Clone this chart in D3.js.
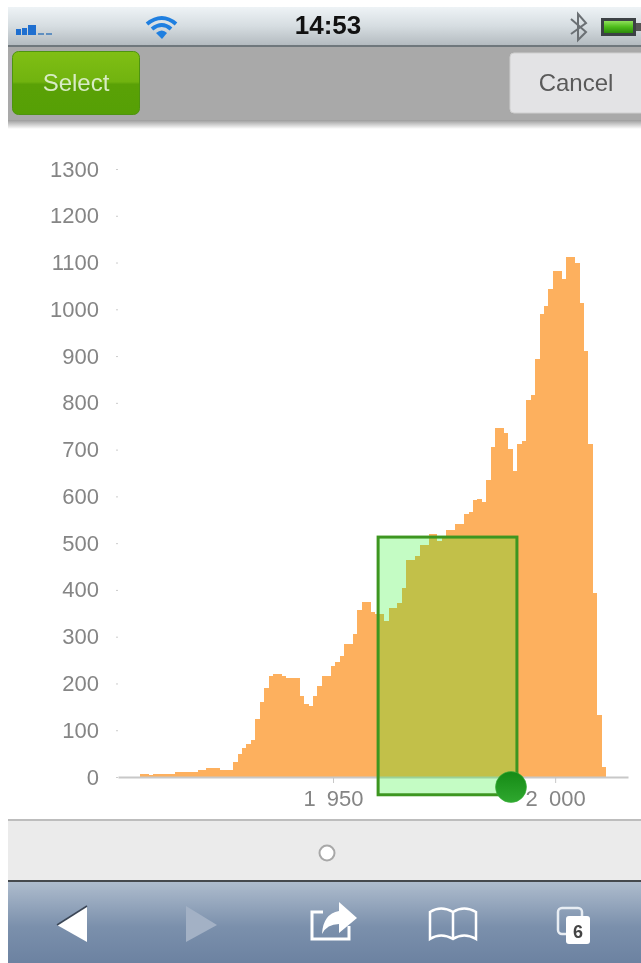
<!DOCTYPE html>
<html>

<head>
    <title>histogram select</title>
    <script src="https://d3js.org/d3.v7.min.js"></script>
    <style>
        body { margin: 0; background: #fff; }
        svg { display: block; filter: blur(0.65px); font-family: "Liberation Sans", Arial, sans-serif; }
    </style>
</head>

<body>
    <svg width="641" height="963" id="mainsvg"></svg>
    <script>
        // values
        const firstYear = 1907;
        const counts = [6, 6, 4, 6, 6, 6, 7, 7, 11, 11, 10, 11, 11, 14, 14, 19, 19, 19, 16, 16, 16, 32, 49,
            62, 71, 80, 123, 160, 190, 216, 221, 221, 216,
            212, 212, 212, 173, 156, 152, 173, 195, 216, 216,
            237, 246, 259, 284, 284, 306, 357, 374, 374, 353,
            349, 349, 333, 362, 362, 371, 405, 465, 465, 473,
            495, 495, 520, 520, 505, 512, 529, 529, 542, 542,
            563, 567, 592, 594, 589, 636, 705, 747, 747, 735,
            701, 654, 713, 718, 807, 816, 893, 991, 1008, 1043,
            1081, 1081, 1064, 1111, 1111, 1098, 1013, 910, 713, 393,
            132, 21];
        const yTicks = d3.range(0, 1301, 100);
        const xTicks = [1950, 2000];
        const selectionYears = [1960.15, 1991.4];
        const selectionCounts = [-38, 513];
        const selectLabel = 'Select', cancelLabel = 'Cancel', clock = '14:53', tabCount = '6';

        const svg = d3.select('#mainsvg');
        const defs = svg.append('defs');

        function grad(id, stops) {
            const g = defs.append('linearGradient').attr('id', id)
                .attr('x1', 0).attr('y1', 0).attr('x2', 0).attr('y2', 1);
            stops.forEach(s => g.append('stop').attr('offset', s[0]).attr('stop-color', s[1]));
        }
        grad('statusbar', [[0, '#eef3f6'], [0.5, '#d6dde1'], [1, '#b4bbc0']]);
        grad('shadow', [[0, '#9c9c9c'], [1, '#ffffff']]);
        grad('selectbtn', [[0, '#80bf14'], [0.48, '#71b30f'], [0.52, '#5aa106'], [1, '#56a005']]);
        grad('toolbar', [[0, '#aebccd'], [0.55, '#7b90ac'], [1, '#6c82a1']]);
        grad('handle', [[0, '#158a15'], [1, '#2fa82f']]);
        grad('battery', [[0, '#8fe05a'], [0.5, '#4dbb1a'], [1, '#2c8a0c']]);

        // chart
        const x = d3.scaleLinear().domain([1901.6, 2016.4]).range([118, 628]);
        const y = d3.scaleLinear().domain([0, 1300]).range([777, 169]);
        const fmt = d3.formatLocale({ decimal: '.', thousands: ' ', grouping: [3], currency: ['', ''] }).format(',d');

        const bars = svg.append('g').attr('shape-rendering', 'crispEdges');
        bars.selectAll('rect').data(counts).enter().append('rect')
            .attr('x', (d, i) => x(firstYear + i - 0.5))
            .attr('width', (d, i) => x(firstYear + i + 0.5) - x(firstYear + i - 0.5))
            .attr('y', d => y(d))
            .attr('height', d => y(0) - y(d))
            .attr('fill', '#fdb05e');

        const yAxis = svg.append('g').attr('transform', `translate(${x.range()[0]},0)`)
            .call(d3.axisLeft(y).tickValues(yTicks).tickFormat(d3.format('d')).tickSize(2).tickPadding(17));
        yAxis.select('.domain').remove();
        yAxis.selectAll('line').attr('stroke', '#ccc');
        yAxis.selectAll('text').attr('fill', '#858585').attr('font-size', 22).attr('font-family', 'Liberation Sans');

        const xAxis = svg.append('g').attr('transform', `translate(0,${y(0)})`)
            .call(d3.axisBottom(x).tickValues(xTicks).tickFormat(fmt).tickSizeInner(6).tickSizeOuter(0).tickPadding(7));
        xAxis.select('.domain').attr('stroke', '#c8c8c8').attr('stroke-width', 2);
        xAxis.selectAll('line').attr('stroke', '#c8c8c8');
        xAxis.selectAll('text').attr('fill', '#858585').attr('font-size', 22)
            .attr('font-family', 'Liberation Sans').style('word-spacing', '5px');

        // selection box and handle
        svg.append('rect')
            .attr('x', x(selectionYears[0]))
            .attr('y', y(selectionCounts[1]))
            .attr('width', x(selectionYears[1]) - x(selectionYears[0]))
            .attr('height', y(selectionCounts[0]) - y(selectionCounts[1]))
            .attr('fill', 'rgb(9,242,9)').attr('fill-opacity', 0.24)
            .attr('stroke', '#3d9620').attr('stroke-width', 3);
        svg.append('circle').attr('cx', 511).attr('cy', 787).attr('r', 15.5)
            .attr('fill', 'url(#handle)').attr('stroke', '#3cb03c').attr('stroke-opacity', 0.6);

        // phone chrome: top
        svg.append('rect').attr('x', 8).attr('y', 7).attr('width', 633).attr('height', 38).attr('fill', 'url(#statusbar)');
        svg.append('rect').attr('x', 8).attr('y', 45).attr('width', 633).attr('height', 2).attr('fill', '#6f777c');
        svg.append('rect').attr('x', 8).attr('y', 47).attr('width', 633).attr('height', 73).attr('fill', '#a9a9a9');
        svg.append('rect').attr('x', 8).attr('y', 120).attr('width', 633).attr('height', 9).attr('fill', 'url(#shadow)');

        // signal bars
        [[16, 5, 6], [22, 5, 7], [28, 8, 10]].forEach(b => {
            svg.append('rect').attr('x', b[0]).attr('y', 35 - b[2]).attr('width', b[1]).attr('height', b[2]).attr('fill', '#1f6fd0');
        });
        [38, 46].forEach(bx => svg.append('rect').attr('x', bx).attr('y', 33).attr('width', 6).attr('height', 2).attr('fill', '#5f8fc0'));

        // wifi
        const wifi = svg.append('g').attr('fill', 'none').attr('stroke', '#1f7fe0').attr('stroke-width', 4);
        wifi.append('path').attr('d', 'M147,24 Q162,12 176,24');
        wifi.append('path').attr('d', 'M152,29 Q162,21 171,29');
        svg.append('path').attr('d', 'M156,33 Q162,28 167,33 L162,39 Z').attr('fill', '#1f7fe0');

        svg.append('text').attr('x', 328).attr('y', 34).attr('text-anchor', 'middle')
            .attr('font-size', 26).attr('font-weight', 'bold').attr('fill', '#111').text(clock);

        // bluetooth and battery
        svg.append('path').attr('d', 'M571,19 L586,32 L578,40 L578,14 L586,23 L571,34')
            .attr('fill', 'none').attr('stroke', '#6b7074').attr('stroke-width', 2);
        svg.append('rect').attr('x', 601).attr('y', 18).attr('width', 35).attr('height', 18).attr('fill', '#3c4145');
        svg.append('rect').attr('x', 604).attr('y', 21).attr('width', 29).attr('height', 12).attr('fill', 'url(#battery)');
        svg.append('rect').attr('x', 636).attr('y', 23).attr('width', 5).attr('height', 8).attr('fill', '#555');

        // buttons
        svg.append('rect').attr('x', 12.5).attr('y', 51.5).attr('width', 127).attr('height', 63).attr('rx', 6)
            .attr('fill', 'url(#selectbtn)').attr('stroke', '#4e9410');
        svg.append('text').attr('x', 76).attr('y', 91).attr('text-anchor', 'middle')
            .attr('font-size', 24).attr('fill', '#d8ecc4').text(selectLabel);
        svg.append('rect').attr('x', 510).attr('y', 53).attr('width', 140).attr('height', 60).attr('rx', 4)
            .attr('fill', '#e3e3e5').attr('stroke', '#cfcfcf');
        svg.append('text').attr('x', 576).attr('y', 91).attr('text-anchor', 'middle')
            .attr('font-size', 24).attr('fill', '#5a5a5a').text(cancelLabel);

        // phone chrome: bottom
        svg.append('rect').attr('x', 8).attr('y', 819).attr('width', 633).attr('height', 2).attr('fill', '#bdbdbd');
        svg.append('rect').attr('x', 8).attr('y', 821).attr('width', 633).attr('height', 59).attr('fill', '#ebebeb');
        svg.append('rect').attr('x', 8).attr('y', 880).attr('width', 633).attr('height', 2).attr('fill', '#45494d');
        svg.append('rect').attr('x', 8).attr('y', 882).attr('width', 633).attr('height', 81).attr('fill', 'url(#toolbar)');
        svg.append('circle').attr('cx', 327).attr('cy', 853).attr('r', 7.5)
            .attr('fill', '#fff').attr('stroke', '#a8a8a8').attr('stroke-width', 2);

        // back / forward
        svg.append('path').attr('d', 'M57,925 L87,906 L87,942 Z').attr('fill', '#fff');
        svg.append('path').attr('d', 'M57,925 L87,906').attr('stroke', '#3b4656').attr('stroke-width', 1.5);
        svg.append('path').attr('d', 'M186,906 L217,925 L186,942 Z').attr('fill', '#a3b1c5');

        // share
        svg.append('path').attr('d', 'M323,912 L312,912 L312,939 L349,939 L349,926')
            .attr('fill', 'none').attr('stroke', '#fff').attr('stroke-width', 3);
        svg.append('path').attr('d', 'M339,902 L357,918 L339,933 L339,924 Q327,924 322,934 Q323,914 339,911 Z').attr('fill', '#fff');

        // bookmarks
        svg.append('path').attr('d', 'M430,939 L430,912 Q441,905 453,912 Q464,905 476,912 L476,939 Q464,932 453,939 Q441,932 430,939 Z M453,912 L453,939')
            .attr('fill', 'none').attr('stroke', '#fff').attr('stroke-width', 2.5);

        // tabs
        svg.append('rect').attr('x', 558).attr('y', 908).attr('width', 24).attr('height', 26).attr('rx', 4)
            .attr('fill', 'none').attr('stroke', '#e8edf3').attr('stroke-width', 2.5);
        svg.append('rect').attr('x', 566).attr('y', 916).attr('width', 24).attr('height', 28).attr('rx', 3).attr('fill', '#fff');
        svg.append('text').attr('x', 578).attr('y', 938).attr('text-anchor', 'middle')
            .attr('font-size', 18).attr('font-weight', 'bold').attr('fill', '#444').text(tabCount);
    </script>
</body>

</html>
